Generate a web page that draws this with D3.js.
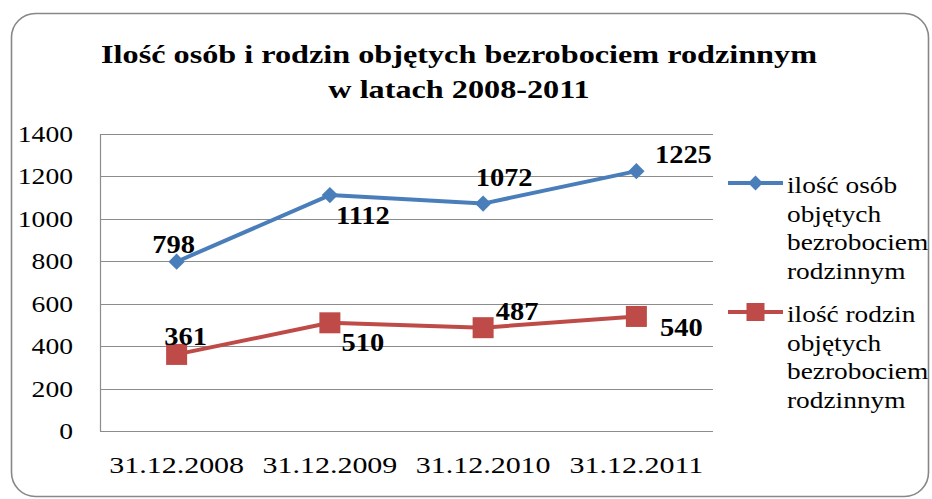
<!DOCTYPE html>
<html>
<head>
<meta charset="utf-8">
<script src="https://cdn.jsdelivr.net/npm/d3@7"></script>
<style>
    body { margin: 0; background: #fff; }
</style>
</head>
<body>
<svg id="chart" width="932" height="499"></svg>
<script>
const titleLines = ["Ilość osób i rodzin objętych bezrobociem rodzinnym", "w latach 2008-2011"];
const categories = ["31.12.2008", "31.12.2009", "31.12.2010", "31.12.2011"];
const osoby = [798, 1112, 1072, 1225];
const rodziny = [361, 510, 487, 540];
const yTicks = [0, 200, 400, 600, 800, 1000, 1200, 1400];
const legendOsoby = ["ilość osób", "objętych", "bezrobociem", "rodzinnym"];
const legendRodziny = ["ilość rodzin", "objętych", "bezrobociem", "rodzinnym"];

// label offsets (dx, dy of label center from the point), like the original layout
const osobyOffsets = [[-3, -17], [33, 20], [21, -26], [47, -17]];
const rodzinyOffsets = [[9, -18], [33, 20], [34, -16], [45, 11]];

const BLUE = "#4a7ebb";
const RED = "#be4b48";
const FONT = '"Liberation Serif"';

const svg = d3.select("#chart");

// text in the picture is a bit wider than normal -> scale it in x around its anchor
function textAt(sel, px, py, size, bold, k) {
    return sel
        .attr("transform", (d, i) => `translate(${px(d, i)},${py(d, i)}) scale(${k},1)`)
        .style("font-family", FONT)
        .style("font-size", size + "px")
        .style("font-weight", bold ? "bold" : "normal")
        .attr("fill", "#000");
}

// outer frame
svg.append("rect")
    .attr("x", 11.5).attr("y", 13.5)
    .attr("width", 917).attr("height", 483)
    .attr("rx", 24).attr("ry", 24)
    .attr("fill", "#fff")
    .attr("stroke", "#878787")
    .attr("stroke-width", 1.6);

// title
svg.append("g").selectAll("text")
    .data(titleLines)
    .join("text")
    .attr("text-anchor", "middle")
    .call(textAt, () => 459, (d, i) => 63 + i * 35, 26, true, 1.24)
    .text(d => d);

const plot = { left: 100, right: 713, top: 134, bottom: 431 };

const x = d3.scaleBand()
    .domain(categories)
    .range([plot.left, plot.right])
    .padding(0);
const cx = d => x(d) + x.bandwidth() / 2;

const y = d3.scaleLinear()
    .domain([0, 1400])
    .range([plot.bottom, plot.top]);

// gridlines
svg.append("g")
    .selectAll("line")
    .data(yTicks)
    .join("line")
    .attr("x1", plot.left).attr("x2", plot.right)
    .attr("y1", d => Math.round(y(d)) + 0.5)
    .attr("y2", d => Math.round(y(d)) + 0.5)
    .attr("stroke", "#8c8c8c")
    .attr("stroke-width", 1.2);

// left axis line
svg.append("line")
    .attr("x1", plot.left + 0.5).attr("x2", plot.left + 0.5)
    .attr("y1", plot.top).attr("y2", plot.bottom + 0.5)
    .attr("stroke", "#8c8c8c")
    .attr("stroke-width", 1.2);

// y tick labels
svg.append("g")
    .selectAll("text")
    .data(yTicks)
    .join("text")
    .attr("text-anchor", "end")
    .call(textAt, () => 73, d => y(d) + 8, 23, false, 1.2)
    .text(d => d);

// x tick labels
svg.append("g")
    .selectAll("text")
    .data(categories)
    .join("text")
    .attr("text-anchor", "middle")
    .call(textAt, d => cx(d), () => 473, 24, false, 1.25)
    .text(d => d);

const line = d3.line()
    .x((d, i) => cx(categories[i]))
    .y(d => y(d));

const diamond = d3.symbol().type(d3.symbolDiamond2).size(170);

function drawSeries(values, color, marker, offsets) {
    svg.append("path")
        .datum(values)
        .attr("d", line)
        .attr("fill", "none")
        .attr("stroke", color)
        .attr("stroke-width", 4)
        .attr("stroke-linejoin", "round");

    const pts = svg.append("g")
        .selectAll("g")
        .data(values)
        .join("g")
        .attr("transform", (d, i) => `translate(${cx(categories[i])},${y(d)})`);

    if (marker === "diamond") {
        pts.append("path").attr("d", diamond).attr("fill", color);
    } else {
        pts.append("rect")
            .attr("x", -10.5).attr("y", -10.5)
            .attr("width", 21).attr("height", 21)
            .attr("fill", color);
    }

    svg.append("g")
        .selectAll("text")
        .data(values)
        .join("text")
        .attr("text-anchor", "middle")
        .call(textAt,
            (d, i) => cx(categories[i]) + offsets[i][0],
            (d, i) => y(d) + offsets[i][1] + 8.5,
            25, true, 1.14)
        .text(d => d);
}

drawSeries(osoby, BLUE, "diamond", osobyOffsets);
drawSeries(rodziny, RED, "square", rodzinyOffsets);

// legend
function drawLegend(lines, color, marker, top) {
    const g = svg.append("g");
    g.append("line")
        .attr("x1", 728).attr("x2", 783)
        .attr("y1", top).attr("y2", top)
        .attr("stroke", color)
        .attr("stroke-width", 4);
    if (marker === "diamond") {
        g.append("path")
            .attr("transform", `translate(755.5,${top})`)
            .attr("d", d3.symbol().type(d3.symbolDiamond2).size(140))
            .attr("fill", color);
    } else {
        g.append("rect")
            .attr("x", 746.5).attr("y", top - 9)
            .attr("width", 18).attr("height", 18)
            .attr("fill", color);
    }
    g.selectAll("text")
        .data(lines)
        .join("text")
        .call(textAt, () => 787, (d, i) => top + 10 + i * 28.5, 23, false, 1.19)
        .text(d => d);
}

drawLegend(legendOsoby, BLUE, "diamond", 183);
drawLegend(legendRodziny, RED, "square", 312);
</script>
</body>
</html>
